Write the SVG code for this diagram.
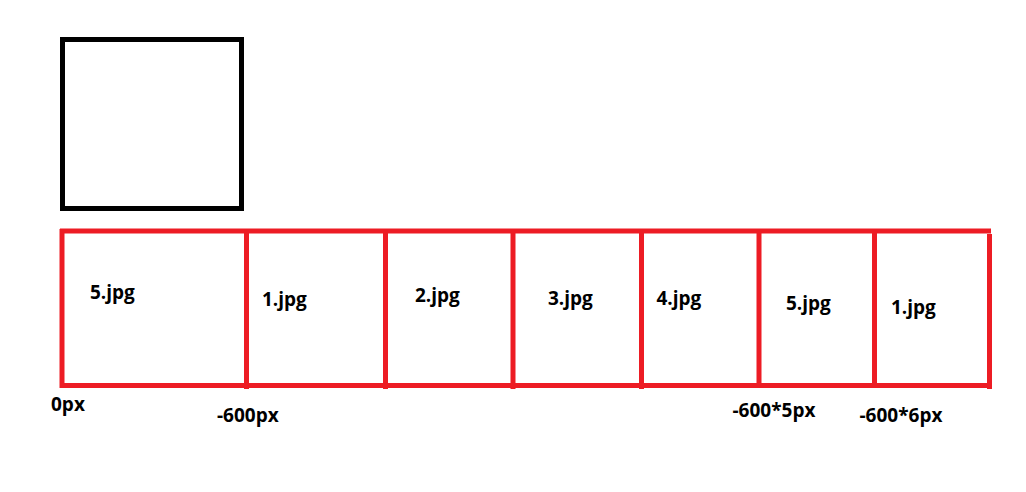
<svg xmlns="http://www.w3.org/2000/svg" width="1026" height="492" viewBox="0 0 1026 492">
<style>
.frame{fill:none;stroke:#000;stroke-width:5}
.red{fill:none;stroke:#ED1C24;stroke-width:5}
.t{font-family:"Open Sans","Noto Sans","DejaVu Sans",sans-serif;font-weight:bold;font-size:19px;fill:#000}
</style>
<rect width="1026" height="492" fill="#fff"/>
<g id="viewport"><rect class="frame" x="62.5" y="39.5" width="179" height="169"/></g>
<g id="connectors">
<line class="red" x1="60" y1="231" x2="991" y2="231"/>
<line class="red" x1="60" y1="385.5" x2="991" y2="385.5"/>
<line class="red" x1="62" y1="229" x2="62" y2="388"/>
<line class="red" x1="246.5" y1="233" x2="246.5" y2="389"/>
<line class="red" x1="385.5" y1="233" x2="385.5" y2="389"/>
<line class="red" x1="513" y1="233" x2="513" y2="389"/>
<line class="red" x1="641.5" y1="233" x2="641.5" y2="389"/>
<line class="red" x1="759" y1="233" x2="759" y2="388"/>
<line class="red" x1="874.5" y1="233" x2="874.5" y2="388"/>
<line class="red" x1="989.5" y1="234" x2="989.5" y2="389"/>
</g>
<g id="slide-0"><text class="t" x="90" y="299">5.jpg</text></g>
<g id="slide-1"><text class="t" x="262" y="305.5">1.jpg</text></g>
<g id="slide-2"><text class="t" x="415" y="301.5">2.jpg</text></g>
<g id="slide-3"><text class="t" x="548" y="304.5">3.jpg</text></g>
<g id="slide-4"><text class="t" x="656.5" y="305">4.jpg</text></g>
<g id="slide-5"><text class="t" x="786" y="310">5.jpg</text></g>
<g id="slide-6"><text class="t" x="891" y="314">1.jpg</text></g>
<g id="labels">
<text class="t" x="51" y="410.5">0px</text>
<text class="t" x="217" y="421.5">-600px</text>
<text class="t" x="732.5" y="417">-600*5px</text>
<text class="t" x="859.5" y="421.5">-600*6px</text>
</g>
</svg>
